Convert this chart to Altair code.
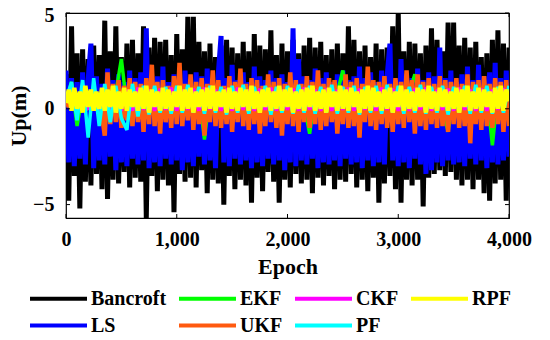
import altair as alt
import numpy as np
import pandas as pd

# Series values (Up error in metres)
bancroft = [1.8, -4.8, 4.3, -3.5, 2.9, -5.2, 3.1, -3.8, 2.6, -4.0,
            3.3, -3.4, 2.8, -4.2, 4.6, -4.7, 3.0, -3.7, 4.3, -3.9,
            2.7, -3.3, 3.4, -4.1, 3.6, -3.6, 2.9, -3.8, 4.3, -5.7,
            3.2, -3.5, 3.7, -4.3, 3.5, -3.7, 3.6, -4.0, 2.8, -5.4,
            3.9, -3.4, 3.1, -3.8, 4.8, -3.6, 4.8, -4.1, 3.5, -3.2,
            3.0, -4.4, 3.4, -3.7, 2.7, -3.9, 3.3, -5.0, 3.6, -3.5,
            3.2, -4.2, 2.9, -3.7, 3.5, -4.0, 3.0, -4.9, 3.9, -3.6,
            3.3, -4.3, 3.1, -3.3, 4.1, -3.8, 2.8, -4.9, 3.4, -3.7,
            3.0, -4.1, 3.6, -3.4, 2.9, -3.9, 3.3, -3.7, 3.7, -4.4,
            3.2, -3.6, 3.5, -4.0, 2.8, -3.5, 3.1, -4.2, 3.4, -3.7,
            2.9, -3.8, 4.3, -3.4, 3.6, -4.1, 3.0, -3.7, 3.3, -4.3,
            2.7, -3.6, 3.4, -4.9, 3.1, -3.9, 3.2, -3.5, 4.3, -4.2,
            5.0, -4.9, 3.0, -3.7, 3.5, -4.0, 3.4, -3.7, 2.9, -5.1,
            3.3, -3.6, 4.2, -3.4, 3.6, -3.2, 3.0, -3.5, 4.5, -3.3,
            4.5, -3.7, 3.3, -4.0, 3.7, -3.7, 3.2, -4.2, 3.5, -3.7,
            2.7, -4.4, 2.9, -4.8, 3.6, -3.9, 4.1, -3.7, 3.4, -4.8,
            3.2]

ls = [2.0, -2.8, 1.6, -3.0, 1.4, -2.6, 1.9, -2.9, 1.5, 3.4,
      -3.1, 1.7, -2.7, 1.3, -2.9, 2.1, -2.5, 1.5, -3.2, 1.8,
      -2.8, 1.4, -3.0, 2.0, -2.6, 1.6, -2.9, 1.9, -2.7, 4.2,
      -3.1, 1.5, -2.8, 1.7, -3.0, 2.2, -2.6, 1.4, -2.9, 1.8,
      -2.7, 1.6, -3.2, 2.0, -2.8, 1.5, -3.0, 1.9, -2.5, 1.7,
      -2.9, 2.1, -2.7, 1.3, -3.1, 1.8, 3.8, -2.8, 1.6, -3.0,
      2.3, -2.6, 1.5, -2.9, 1.9, -2.7, 1.4, -3.1, 2.2, -2.8,
      1.7, -3.0, 1.5, -2.6, 2.0, -2.9, 1.6, -2.7, 1.8, -3.2,
      1.4, -2.8, 4.2, -3.0, 2.6, -2.7, 1.7, -2.9, 1.5, -2.6,
      2.1, -3.1, 1.6, -2.8, 1.9, -2.9, 1.4, -2.7, 1.8, -3.0,
      2.0, -2.6, 1.5, -2.9, 1.7, -2.8, 2.2, -3.1, 1.6, -2.7,
      1.9, -3.0, 1.4, -2.8, 2.0, -2.9, 1.7, 3.4, -2.7, 1.5,
      -3.0, 2.6, -2.8, 1.8, -3.1, 1.6, -2.6, 2.1, -2.9, 1.5,
      -3.4, 1.9, -3.2, 1.7, -2.8, 3.2, -3.0, 1.6, -2.7, 2.0,
      -2.9, 1.4, -2.8, 1.8, -3.0, 2.2, -2.6, 1.5, -2.9, 2.3,
      -2.7, 1.7, -3.1, 1.9, -2.8, 2.4, -2.9, 1.6, -2.7, 2.0,
      -2.5]

ekf = [0.3, 1.4, -0.9, 0.8, 0.2, 0.85, 0.1, 0.9, 0.2, 0.85,
       2.6, 0.1, 0.85, 0.2, 0.9, 0.1, 0.85, 0.2, 0.9, 0.1,
       0.85, 0.2, 0.9, 0.1, 0.85, -1.6, 0.9, 0.2, 0.85, 0.1,
       0.9, 0.2, 0.85, 0.1, 0.9, 0.2, 0.85, 0.1, 0.9, 0.2,
       0.85, 0.1, 0.9, 0.2, -1.3, 0.85, 0.1, 0.9, 0.2, 0.85,
       2.0, 0.1, 0.9, 0.2, 0.85, 0.1, 0.9, 0.2, 0.85, 0.1,
       0.9, 0.2, 0.85, 1.8, 0.1, 0.9, 0.2, 0.85, 0.1, -1.2,
       0.9, 0.2, 0.85, 0.1, 0.9, 0.2, 0.85, -1.9, 0.9, 0.1,
       0.85]

ukf = [0.4, 0.1, 0.7, 0.0, 0.8, 0.2, 0.6, -0.1, 0.9, 0.1,
       0.7, 0.0, 0.8, -0.3, -1.4, 1.9, -0.8, 1.3, -0.7, 1.5,
       -1.0, 1.2, -0.6, 1.6, -0.9, 1.4, -0.7, 1.3, -1.2, 1.6,
       -0.8, 2.3, -0.9, 1.4, -1.3, 1.5, -0.7, 1.2, -1.0, 1.7,
       -0.8, 2.4, -0.9, 1.3, -0.6, 1.8, -1.1, 1.4, -0.8, 1.6,
       -1.4, 1.3, -0.7, 2.0, -0.9, 1.5, -1.0, 1.2, -0.8, 1.7,
       -1.2, 1.4, -0.7, 2.1, -0.9, 1.3, -1.1, 1.6, -0.8, 1.5,
       -1.3, 1.2, -0.9, 1.8, -0.7, 1.4, -1.0, 1.6, -1.4, 1.3,
       -0.8, 1.9, -0.9, 1.5, -1.2, 1.3, -0.7, 1.7, -1.0, 1.4,
       -0.8, 2.0, -1.1, 1.3, -0.9, 1.6, -0.7, 1.5, -1.3, 1.2,
       -0.8, 1.8, -1.0, 1.4, -0.9, 1.6, -1.5, 1.3, -0.7, 2.2,
       -0.9, 1.5, -1.1, 1.4, -0.8, 1.7, -1.0, 1.3, -1.2, 1.6,
       -0.8, 1.4, -1.0, 2.0, -0.7, 1.5, -1.3, 1.8, -0.9, 1.4,
       -1.1, 1.6, -0.8, 1.3, -1.0, 1.7, -0.9, 1.5, -1.2, 1.4,
       -0.8, 1.6, -1.0, 1.3, -0.9, 1.8, -1.8, 1.4, -0.8, 1.5,
       -1.1, 1.7, -0.9, 1.3, -1.0, 1.6, -0.8, 1.4, -1.2, 1.5,
       -0.9]

ckf = [0.4, 1.05, -0.1, 1.0, -0.05, 1.1, -0.1, 1.0, -0.05, 1.05,
       -0.1, 1.0, -0.1, 1.1, -0.05, 1.0, -0.1, 1.05, -0.05, 1.1,
       -0.1, 1.0, -0.05, 1.05, -0.1, 1.1, -0.05, 1.0, -0.1, 1.05,
       -0.1, 1.1, -0.05, 1.0, -0.1, 1.05, -0.05, 1.1, -0.1, 1.0,
       -0.05, 1.05, -0.1, 1.1, -0.05, 1.0, -0.1, 1.05, -0.1, 1.0,
       -0.05, 1.1, -0.1, 1.05, -0.05, 1.0, -0.1, 1.1, -0.05, 1.05,
       -0.1, 1.0, -0.1, 1.05, -0.05, 1.1, -0.1, 1.0, -0.05, 1.05,
       -0.1, 1.1, -0.05, 1.0, -0.1, 1.05, -0.1, 1.0, -0.05, 1.05,
       0.5]

pf = [0.5, 1.4, -0.6, 1.5, -1.5, 1.6, -0.9, 1.3, -0.7, 1.2,
      -0.5, -1.1, 1.3, -0.4, 1.2, -0.3, 1.2, -0.2, 1.15, -0.25,
      1.2, -0.2, 1.25, -0.2, 1.15, -0.25, 1.2, -0.2, 1.15, -0.3,
      1.2, -0.2, 1.25, -0.25, 1.15, -0.2, 1.2, -0.3, 1.15, -0.2,
      1.2, -0.25, 1.25, -0.2, 1.2, -0.25, 1.15, -0.2, 1.25, -0.25,
      1.15, -0.2, 1.2, -0.3, 1.15, -0.2, 1.2, -0.25, 1.25, -0.2,
      1.2, -0.25, 1.15, -0.2, 1.25, -0.25, 1.15, -0.2, 1.2, -0.3,
      1.15, -0.2, 1.2, -0.25, 1.25, -0.2, 1.2, -0.25, 1.15, -0.2,
      1.2]

rpf = [0.3, 1.0, -0.1, 1.1, 0.0, 0.9, -0.2, 1.2, 0.1, 1.0,
       -0.1, 0.9, 0.0, 1.1, -0.1, 1.0, 0.1, 1.2, -0.2, 0.9,
       0.0, 1.1, -0.1, 1.0, 0.1, 0.9, -0.1, 1.1, 0.0, 1.2,
       -0.2, 1.0, 0.1, 0.9, -0.1, 1.1, 0.0, 1.0, -0.1, 0.9,
       0.1, 1.2, -0.1, 1.0, 0.0, 1.1, -0.2, 0.9, 0.1, 1.0,
       -0.1, 1.1, 0.0, 1.2, -0.1, 0.9, 0.1, 1.0, -0.2, 1.1,
       0.0, 0.9, -0.1, 1.1, 0.1, 1.0, -0.1, 1.2, 0.0, 0.9,
       -0.2, 1.0, 0.1, 1.1, -0.1, 0.9, 0.0, 1.2, -0.1, 1.0,
       0.1, 1.1, -0.2, 0.9, 0.0, 1.0, -0.1, 1.1, 0.1, 1.2,
       -0.1, 0.9, 0.0, 1.0, -0.2, 1.1, 0.1, 0.9, -0.1, 1.2,
       0.0, 1.0, -0.1, 1.1, 0.1, 0.9, -0.2, 1.0, 0.0, 1.2,
       -0.1, 1.1, 0.1, 0.9, -0.1, 1.0, 0.0, 1.1, -0.2, 0.9,
       0.1, 1.2, -0.1, 1.0, 0.0, 0.9, -0.1, 1.1, 0.1, 1.0,
       -0.2, 1.2, 0.0, 0.9, -0.1, 1.1, 0.1, 1.0, -0.1, 0.9,
       0.0, 1.1, -0.2, 1.0, 0.1, 1.2, -0.1, 0.9, 0.0, 1.1,
       -0.1, 1.0, 0.1, 0.9, -0.2, 1.1, 0.0, 1.2, -0.1, 1.0,
       0.4]

x_ticks = [0, 1000, 2000, 3000, 4000]
y_ticks = [-5, 0, 5]

# draw order (bottom to top) with line widths
draw_order = [("Bancroft", bancroft, 5), ("LS", ls, 5), ("EKF", ekf, 3.5),
              ("UKF", ukf, 4.5), ("CKF", ckf, 3.5), ("PF", pf, 3.5), ("RPF", rpf, 4.5)]
# legend order (row-major, 4 columns)
legend_names = ["Bancroft", "EKF", "CKF", "RPF", "LS", "UKF", "PF"]
legend_colors = ["#000000", "#00FF00", "#FF00FF", "#FFFF00", "#0000FF", "#FF5A10", "#00FFFF"]

FONT = "Liberation Serif"
W, H = 443, 205

color_enc = alt.Color(
    "series:N",
    title=None,
    scale=alt.Scale(domain=legend_names, range=legend_colors),
    legend=alt.Legend(
        orient="none", legendX=-38, legendY=274, direction="horizontal",
        columns=4, symbolType="M-1,0L5,0", symbolSize=361, symbolStrokeWidth=4,
        labelFont=FONT, labelFontSize=20, labelFontWeight="bold", labelColor="black",
        labelOffset=40, columnPadding=4, rowPadding=5, labelLimit=300, padding=0,
    ),
)

x_enc = alt.X("epoch:Q", scale=alt.Scale(domain=[0, 4000], nice=False),
              axis=alt.Axis(values=x_ticks, title="Epoch", labelFlush=False,
                            labelExpr="datum.value == 0 ? '0' : floor(datum.value / 1000) + ',000'",
                            ticks=False, grid=False, domain=False,
                            labelPadding=11, titlePadding=7))
y_enc = alt.Y("up:Q", scale=alt.Scale(domain=[-5.7, 5.0], nice=False),
              axis=alt.Axis(values=y_ticks, title="Up(m)", labelFlush=False,
                            labelOffset={"condition": {"test": "datum.value == 5", "value": 2}, "value": 0},
                            ticks=False, grid=False, domain=False,
                            labelPadding=12, titlePadding=2))

layers = []
for name, vals, sw in draw_order:
    df = pd.DataFrame({"epoch": np.linspace(0, 4000, len(vals)), "up": vals, "series": name})
    layers.append(
        alt.Chart(df).mark_line(strokeWidth=sw, strokeJoin="bevel", clip=True)
        .encode(x=x_enc, y=y_enc, color=color_enc)
    )

xt = pd.DataFrame({"epoch": x_ticks})
yt = pd.DataFrame({"up": y_ticks})
tick_b = alt.Chart(xt).mark_rule(color="black", strokeWidth=1).encode(x="epoch:Q", y=alt.value(H), y2=alt.value(H - 4))
tick_t = alt.Chart(xt).mark_rule(color="black", strokeWidth=1).encode(x="epoch:Q", y=alt.value(0), y2=alt.value(4))
tick_l = alt.Chart(yt).mark_rule(color="black", strokeWidth=1).encode(y="up:Q", x=alt.value(0), x2=alt.value(4))
tick_r = alt.Chart(yt).mark_rule(color="black", strokeWidth=1).encode(y="up:Q", x=alt.value(W), x2=alt.value(W - 4))

chart = alt.layer(*layers, tick_b, tick_t, tick_l, tick_r).properties(
    width=W, height=H,
    autosize=alt.AutoSizeParams(type="none"),
    padding={"left": 58, "top": 5, "right": 33, "bottom": 114},
).configure_view(
    stroke="black", strokeWidth=1.2
).configure_axis(
    labelFont=FONT, labelFontSize=20, labelFontWeight="bold", labelColor="black",
    titleFont=FONT, titleFontSize=22, titleFontWeight="bold", titleColor="black",
)

chart.save("out.html", embed_options={"renderer": "svg", "actions": False})
